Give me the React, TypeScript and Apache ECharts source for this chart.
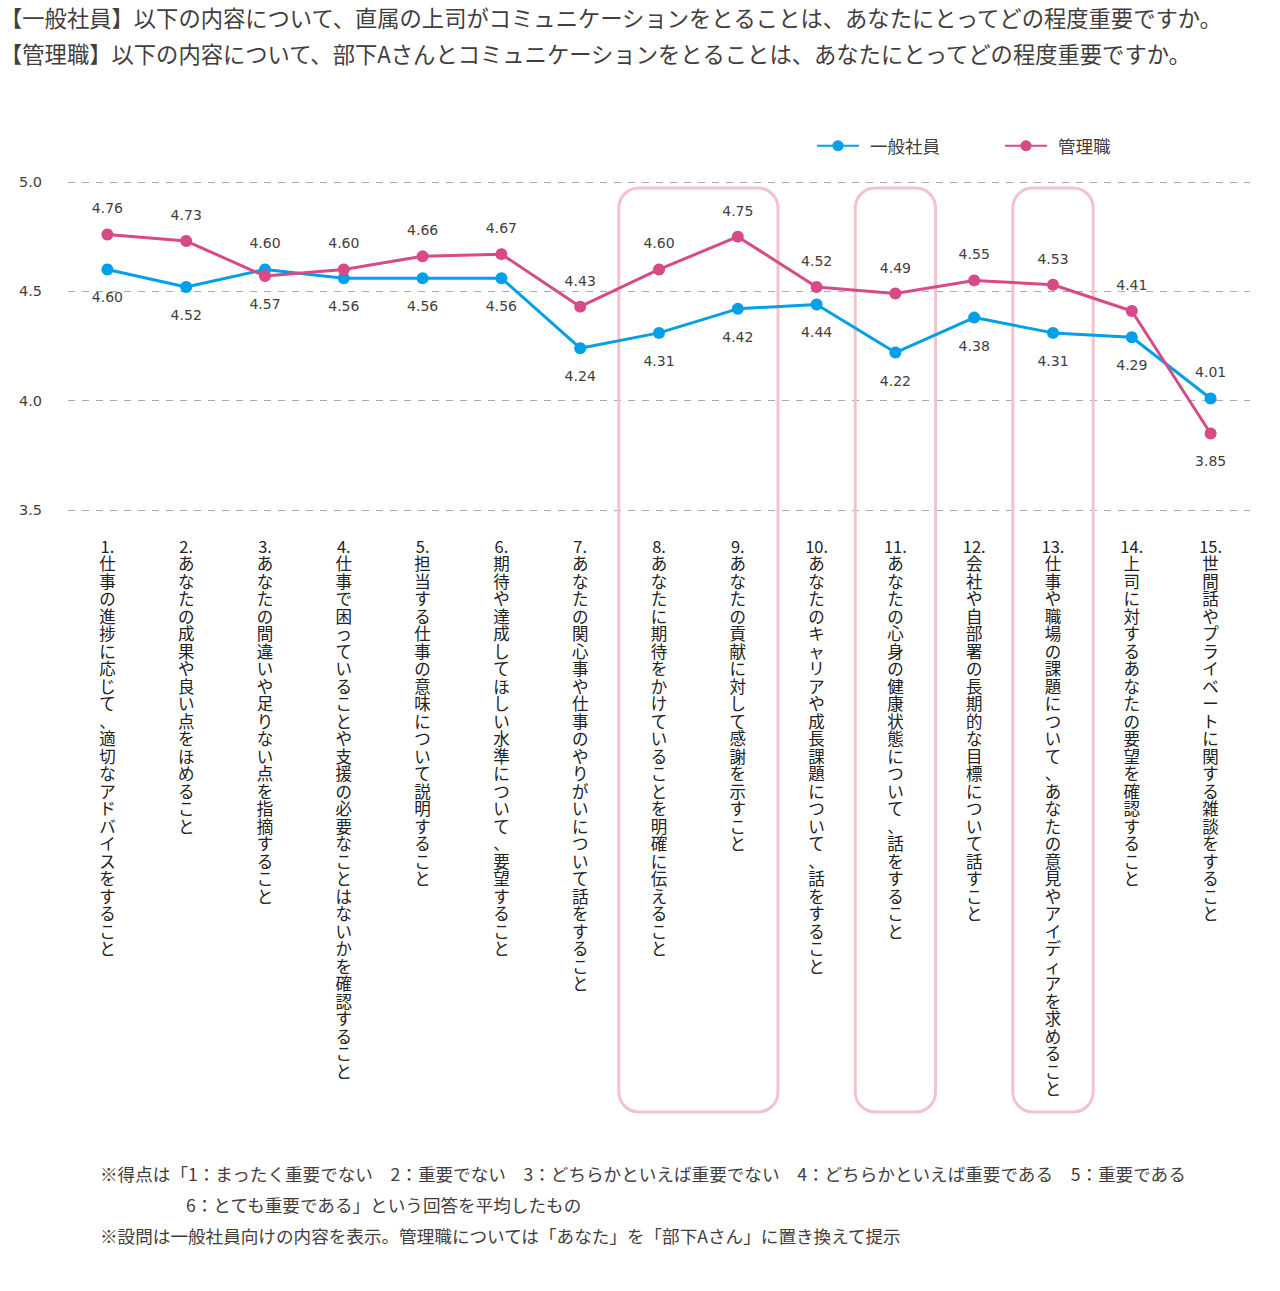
import React, { useEffect, useRef } from 'react';
import * as echarts from 'echarts';

const categories = [
  '1.|仕事の進捗に応じて、適切なアドバイスをすること',
  '2.|あなたの成果や良い点をほめること',
  '3.|あなたの間違いや足りない点を指摘すること',
  '4.|仕事で困っていることや支援の必要なことはないかを確認すること',
  '5.|担当する仕事の意味について説明すること',
  '6.|期待や達成してほしい水準について、要望すること',
  '7.|あなたの関心事や仕事のやりがいについて話をすること',
  '8.|あなたに期待をかけていることを明確に伝えること',
  '9.|あなたの貢献に対して感謝を示すこと',
  '10.|あなたのキャリアや成長課題について、話をすること',
  '11.|あなたの心身の健康状態について、話をすること',
  '12.|会社や自部署の長期的な目標について話すこと',
  '13.|仕事や職場の課題について、あなたの意見やアイディアを求めること',
  '14.|上司に対するあなたの要望を確認すること',
  '15.|世間話やプライベートに関する雑談をすること',
];

const seriesNames = ['一般社員', '管理職'];
const employeeValues = [4.60, 4.52, 4.60, 4.56, 4.56, 4.56, 4.24, 4.31, 4.42, 4.44, 4.22, 4.38, 4.31, 4.29, 4.01];
const managerValues = [4.76, 4.73, 4.57, 4.60, 4.66, 4.67, 4.43, 4.60, 4.75, 4.52, 4.49, 4.55, 4.53, 4.41, 3.85];

const yMin = 3.5;
const yMax = 5.0;
const yInterval = 0.5;

// groups of category indices that are framed
const highlightGroups = [[7, 8], [10, 10], [12, 12]];

const titleLines = [
  '【一般社員】以下の内容について、直属の上司がコミュニケーションをとることは、あなたにとってどの程度重要ですか。',
  '【管理職】以下の内容について、部下Aさんとコミュニケーションをとることは、あなたにとってどの程度重要ですか。',
];

const footnotes = [
  '※得点は「1：まったく重要でない　2：重要でない　3：どちらかといえば重要でない　4：どちらかといえば重要である　5：重要である',
  '6：とても重要である」という回答を平均したもの',
  '※設問は一般社員向けの内容を表示。管理職については「あなた」を「部下Aさん」に置き換えて提示',
];

const BLUE = '#00a0e9';
const PINK = '#d64b87';
const TEXT = '#433d3d';
const CJK = '"Noto Sans CJK JP", "DejaVu Sans", sans-serif';
const NUM = '"DejaVu Sans", "Noto Sans CJK JP", sans-serif';

export default function App() {
  const ref = useRef<HTMLDivElement>(null);

  useEffect(() => {
    const chart = echarts.init(ref.current as HTMLDivElement, null, { renderer: 'svg' });

    const mkData = (vals: number[], other: number[]) =>
      vals.map((v, i) => {
        const above = v >= other[i];
        return {
          value: v,
          label: { position: above ? 'top' : 'bottom', distance: above ? 13 : 15 },
        };
      });

    const mkSeries = (name: string, color: string, vals: number[], other: number[]) => ({
      name,
      type: 'line',
      data: mkData(vals, other),
      symbol: 'circle',
      symbolSize: 12,
      lineStyle: { color, width: 3 },
      itemStyle: { color },
      z: 3,
      label: {
        show: true,
        formatter: (p: any) => Number(p.value).toFixed(2),
        fontFamily: NUM,
        fontSize: 14,
        color: TEXT,
      },
    });

    chart.setOption({
      animation: false,
      backgroundColor: '#ffffff',
      grid: { left: 68, right: 30, top: 182, bottom: 781, containLabel: false },
      legend: {
        left: 816,
        top: 137,
        itemWidth: 42,
        itemHeight: 14,
        itemGap: 64,
        padding: 0,
        textStyle: { fontFamily: CJK, fontSize: 17.5, color: TEXT, padding: [0, 0, 0, 6] },
        data: seriesNames,
      },
      xAxis: {
        type: 'category',
        data: categories,
        boundaryGap: true,
        axisLine: { show: false },
        axisTick: { show: false },
        splitLine: { show: false },
        axisLabel: {
          interval: 0,
          margin: 27,
          fontFamily: CJK,
          fontSize: 16.5,
          lineHeight: 17.5,
          color: '#222',
          align: 'center',
          verticalAlign: 'top',
          formatter: (v: string) => {
            const [num, text] = v.split('|');
            return num + '\n' + Array.from(text).join('\n');
          },
        },
      },
      yAxis: {
        type: 'value',
        min: yMin,
        max: yMax,
        interval: yInterval,
        axisLine: { show: false },
        axisTick: { show: false },
        axisLabel: {
          margin: 26,
          fontFamily: NUM,
          fontSize: 14.5,
          color: TEXT,
          formatter: (v: number) => v.toFixed(1),
        },
        splitLine: { lineStyle: { color: '#aaaaaa', width: 1, type: [7, 7] } },
      },
      series: [
        mkSeries(seriesNames[0], BLUE, employeeValues, managerValues),
        mkSeries(seriesNames[1], PINK, managerValues, employeeValues),
      ],
    });

    const x0 = chart.convertToPixel({ xAxisIndex: 0 }, categories[0]) as number;
    const x1 = chart.convertToPixel({ xAxisIndex: 0 }, categories[1]) as number;
    const band = x1 - x0;
    const half = band * 0.51;
    const yTop = (chart.convertToPixel({ yAxisIndex: 0 }, yMax) as number) + 6;
    const yBottom = 1112;

    const boxes = highlightGroups.map(([a, b]) => {
      const xa = chart.convertToPixel({ xAxisIndex: 0 }, categories[a]) as number;
      const xb = chart.convertToPixel({ xAxisIndex: 0 }, categories[b]) as number;
      return {
        type: 'rect',
        z: 0,
        shape: { x: xa - half, y: yTop, width: xb - xa + 2 * half, height: yBottom - yTop, r: 20 },
        style: { fill: 'none', stroke: '#f5c2cb', lineWidth: 3 },
        silent: true,
      };
    });

    const texts = [
      { x: 0, y: 17, text: titleLines[0], size: 22.3 },
      { x: 0, y: 53, text: titleLines[1], size: 22.3 },
      { x: 100, y: 1173, text: footnotes[0], size: 17.6 },
      { x: 186, y: 1204, text: footnotes[1], size: 17.6 },
      { x: 100, y: 1235, text: footnotes[2], size: 17.6 },
    ].map((t) => ({
      type: 'text',
      x: t.x,
      y: t.y,
      silent: true,
      style: {
        text: t.text,
        fontFamily: CJK,
        fontSize: t.size,
        fill: TEXT,
        textAlign: 'left',
        textVerticalAlign: 'middle',
        verticalAlign: 'middle',
      },
    }));

    chart.setOption({ graphic: { elements: [...boxes, ...texts] } });

    return () => chart.dispose();
  }, []);

  return (
    <div
      ref={ref}
      style={{ position: 'absolute', left: 0, top: 0, width: 1280, height: 1291, background: '#fff' }}
    />
  );
}
